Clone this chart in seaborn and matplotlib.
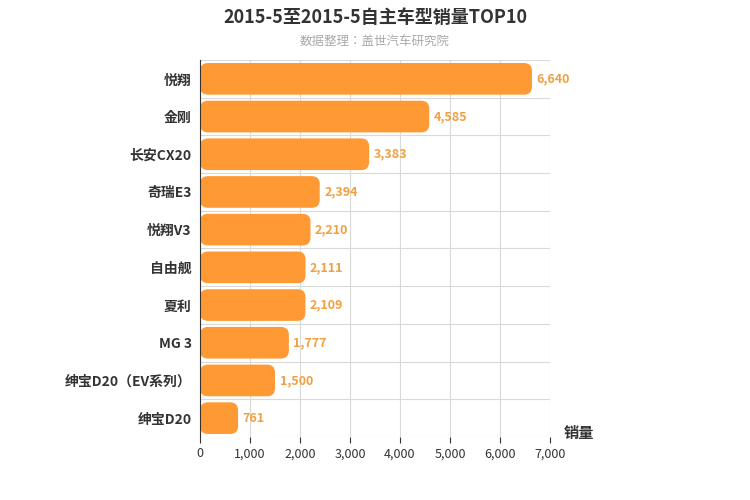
import matplotlib
matplotlib.use("Agg")
import matplotlib.pyplot as plt
from matplotlib import font_manager
import seaborn as sb
import pandas as pd
from matplotlib.patches import FancyBboxPatch

# pick up whatever CJK family is installed
cjk = [f.name for f in font_manager.fontManager.ttflist if "CJK" in f.name]
fam = "Noto Sans CJK SC" if "Noto Sans CJK SC" in cjk else (cjk[0] if cjk else "DejaVu Sans")
plt.rcParams["font.family"] = [fam, "DejaVu Sans"]

cars = ["悦翔", "金刚", "长安CX20", "奇瑞E3", "悦翔V3", "自由舰", "夏利", "MG 3",
        "绅宝D20（EV系列）", "绅宝D20"]
sales = [6640, 4585, 3383, 2394, 2210, 2111, 2109, 1777, 1500, 761]
xticks = [0, 1000, 2000, 3000, 4000, 5000, 6000, 7000]

df = pd.DataFrame({"车型": cars, "销量": sales})

fig = plt.figure(figsize=(7.5, 5), dpi=100)
ax = fig.add_axes([0.2667, 0.126, 0.4666, 0.754])
sb.barplot(data=df, x="销量", y="车型", color="#ff9933", width=0.84, ax=ax)

# rounded bars
for p in list(ax.patches):
    x, y = p.get_x(), p.get_y()
    w, h = p.get_width(), p.get_height()
    p.set_visible(False)
    ax.add_patch(FancyBboxPatch((x, y), w, h, boxstyle="round,pad=0,rounding_size=160",
                                mutation_aspect=0.00132, linewidth=0,
                                facecolor="#ff9933", zorder=2))
    ax.text(x + w + 90, y + h / 2, f"{int(w):,}", va="center", ha="left",
            color="#f0a040", fontsize=9, fontweight="bold")

ax.set_xlim(0, 7000)
ax.set_ylim(len(cars) - 0.5, -0.5)
ax.set_xticks(xticks)
ax.set_xticklabels([f"{v:,}" for v in xticks], fontsize=9, color="#333333")
ax.set_yticks(range(len(cars)))
ax.set_yticklabels(cars, fontsize=10, fontweight="bold", color="#333333")
for i in range(len(cars) + 1):
    ax.axhline(i - 0.5, color="#d9d9d9", lw=0.8, zorder=0)
for v in xticks:
    ax.axvline(v, color="#d9d9d9", lw=0.8, zorder=0)
ax.set_axisbelow(True)
ax.set_xlabel("")
ax.set_ylabel("")
for s in ["top", "right", "bottom"]:
    ax.spines[s].set_visible(False)
ax.spines["left"].set_color("#333333")
ax.tick_params(axis="y", length=0, pad=6)
ax.tick_params(axis="x", length=4, color="#333333")
ax.text(1.04, -0.01, "销量", transform=ax.transAxes, fontsize=11, fontweight="bold",
        color="#333333", ha="left", va="bottom")

fig.text(0.5, 0.965, "2015-5至2015-5自主车型销量TOP10", ha="center", va="center",
         fontsize=13, fontweight="bold", color="#333333")
fig.text(0.5, 0.918, "数据整理：盖世汽车研究院", ha="center", va="center",
         fontsize=9, color="#aaaaaa")

fig.savefig("out.png")
